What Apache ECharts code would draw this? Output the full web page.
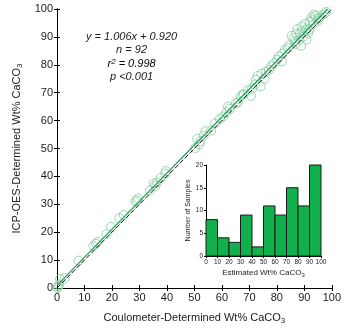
<!DOCTYPE html>
<html>
<head>
<meta charset="utf-8">
<script src="https://cdn.jsdelivr.net/npm/echarts@6/dist/echarts.min.js"></script>
<style>
  html, body { margin: 0; padding: 0; background: #fff; }
  #chart { width: 344px; height: 330px; }
</style>
</head>
<body>
<div id="chart"></div>
<script>
// main scatter: coulometer (x) vs ICP-OES (y), wt% CaCO3
const coulometerX = [
  0.3, 0.8, 0.2, 0.5, 1.1, 2.8, 7.9,
  13.2, 14.7, 14.2, 18.0, 19.7,
  22.7, 24.3, 28.6, 29.5, 29.0,
  33.8, 35.2, 36.4, 35.8, 37.8, 39.4, 39.6,
  50.3, 51.0, 52.2, 53.4, 54.0, 56.1, 57.5, 59.3, 51.8,
  60.5, 61.6, 62.9, 62.2, 65.8, 66.8, 67.5, 69.4, 65.1,
  70.6, 72.0, 74.1, 72.3, 73.0, 74.4, 77.1, 78.9, 76.0, 78.0,
  80.1, 81.8, 80.7, 83.0, 85.4, 87.4, 88.4, 89.0, 88.2, 89.6, 86.5, 87.0, 88.8, 84.5, 86.0, 89.2,
  91.4, 90.2, 92.5, 94.9, 95.5, 93.5, 91.0, 90.5, 93.0, 96.5, 97.5, 92.0, 94.0,
  82.0, 84.0, 86.8, 90.8, 91.8, 93.2, 95.0, 98.0, 71.0, 75.5, 68.0
];
const icpY = [
  0.3, 1.2, 0.0, 0.8, 3.2, 3.6, 9.8,
  15.1, 16.5, 15.8, 19.3, 21.9,
  25.0, 26.2, 31.0, 32.1, 31.4,
  35.0, 37.4, 37.8, 36.6, 39.5, 41.0, 41.9,
  50.2, 53.5, 52.6, 54.6, 56.2, 56.4, 59.0, 60.6, 51.5,
  61.5, 63.0, 64.2, 65.0, 66.5, 68.7, 69.3, 70.8, 66.3,
  68.9, 72.9, 72.3, 74.6, 76.0, 76.8, 78.2, 80.6, 77.5, 79.5,
  81.8, 81.2, 83.0, 85.4, 90.4, 92.8, 91.3, 93.7, 88.9, 90.1, 88.5, 91.0, 86.8, 87.0, 89.5, 92.2,
  91.3, 94.6, 97.0, 95.8, 97.0, 98.0, 93.0, 92.5, 96.0, 97.8, 98.5, 95.5, 97.5,
  84.0, 86.0, 87.5, 89.0, 92.5, 94.5, 96.5, 99.0, 71.5, 75.0, 69.5
];
const fitSlope = 1.006;
const fitIntercept = 0.920;

// inset histogram of estimated wt% CaCO3
const binStarts = [0, 10, 20, 30, 40, 50, 60, 70, 80, 90];
const binCounts = [8, 4, 3, 9, 2, 11, 9, 15, 11, 20];

const FONT = 'Liberation Sans';
const TXT = '#1a1a1a';

const pts = coulometerX.map((x, i) => [x, icpY[i]]);
const fitLine = [[0, fitIntercept], [(100 - fitIntercept) / fitSlope, 100]];
const oneToOne = [[0, 0], [100, 100]];
const histData = binStarts.map((s, i) => [s, s + 10, binCounts[i]]);

const subRich = {
  sub: { fontSize: 8, fontFamily: FONT, color: TXT, verticalAlign: 'bottom', padding: [6, 0, 0, 0] }
};

function frameAxis(pos, inside, showLabel, extra) {
  return Object.assign({
    type: 'value', gridIndex: 0, position: pos,
    min: 0, max: 100, interval: 10,
    axisLine: { show: true, lineStyle: { color: '#000', width: 1 } },
    axisTick: { show: true, inside: inside, length: 3, lineStyle: { color: '#000' } },
    axisLabel: { show: showLabel, fontSize: 11, fontFamily: FONT, color: TXT, margin: 4 },
    splitLine: { show: false }
  }, extra || {});
}

const chart = echarts.init(document.getElementById('chart'));
chart.setOption({
  animation: false,
  backgroundColor: '#fff',
  grid: [
    { left: 57, right: 6, top: 9, bottom: 41 },
    { left: 206, right: 23, top: 165, bottom: 74 }
  ],
  xAxis: [
    frameAxis('bottom', false, true, {
      name: 'Coulometer-Determined Wt% CaCO{sub|3}',
      nameLocation: 'middle', nameGap: 23,
      nameTextStyle: { fontSize: 11, fontFamily: FONT, color: TXT, rich: subRich }
    }),
    frameAxis('bottom', true, false),
    frameAxis('top', false, false),
    frameAxis('top', true, false),
    {
      type: 'value', gridIndex: 1, min: 0, max: 100, interval: 10,
      name: 'Estimated Wt% CaCO{sub|3}', nameLocation: 'middle', nameGap: 12,
      nameTextStyle: { fontSize: 8, fontFamily: FONT, color: TXT,
        rich: { sub: { fontSize: 6, fontFamily: FONT, color: TXT, verticalAlign: 'bottom', padding: [4, 0, 0, 0] } } },
      axisLine: { show: true, lineStyle: { color: '#000' } },
      axisTick: { show: true, length: 2, lineStyle: { color: '#000' } },
      axisLabel: { fontSize: 6.5, fontFamily: FONT, color: TXT, margin: 3 },
      splitLine: { show: false }
    }
  ],
  yAxis: [
    frameAxis('left', false, true, {
      name: 'ICP-OES-Determined Wt% CaCO{sub|3}',
      nameLocation: 'middle', nameGap: 24,
      nameTextStyle: { fontSize: 11, fontFamily: FONT, color: TXT, rich: subRich }
    }),
    frameAxis('left', true, false),
    frameAxis('right', false, false),
    frameAxis('right', true, false),
    {
      type: 'value', gridIndex: 1, min: 0, max: 20, interval: 5,
      name: 'Number of Samples', nameLocation: 'middle', nameGap: 9,
      nameTextStyle: { fontSize: 7, fontFamily: FONT, color: TXT },
      axisLine: { show: true, lineStyle: { color: '#000' } },
      axisTick: { show: true, length: 2, lineStyle: { color: '#000' } },
      axisLabel: { fontSize: 6.5, fontFamily: FONT, color: TXT, margin: 3 },
      splitLine: { show: false }
    }
  ],
  series: [
    {
      type: 'scatter', xAxisIndex: 0, yAxisIndex: 0,
      symbol: 'circle', symbolSize: 9,
      itemStyle: { color: 'rgba(0,0,0,0)', borderColor: '#8fd3a8', borderWidth: 0.9, opacity: 1 },
      data: pts, z: 2
    },
    {
      type: 'line', xAxisIndex: 0, yAxisIndex: 0, data: oneToOne,
      symbol: 'none', lineStyle: { color: '#111', width: 1, type: [5, 2] }, z: 3
    },
    {
      type: 'line', xAxisIndex: 0, yAxisIndex: 0, data: fitLine,
      symbol: 'none', lineStyle: { color: '#1f9a5c', width: 1.2 }, z: 3
    },
    {
      type: 'custom', xAxisIndex: 4, yAxisIndex: 4, data: histData,
      renderItem: function (params, api) {
        const p0 = api.coord([api.value(0), api.value(2)]);
        const p1 = api.coord([api.value(1), 0]);
        return {
          type: 'rect',
          shape: { x: p0[0], y: p0[1], width: p1[0] - p0[0], height: p1[1] - p0[1] },
          style: { fill: '#12b04c', stroke: '#1a1a1a', lineWidth: 1 }
        };
      },
      z: 4
    }
  ],
  graphic: [
    {
      type: 'group', left: 86, top: 31,
      children: [
        { type: 'text', x: 44, y: 0, style: { text: 'y = 1.006x + 0.920', align: 'center', fontSize: 11, fontStyle: 'italic', fontFamily: FONT, fill: TXT } },
        { type: 'text', x: 44, y: 13.5, style: { text: 'n = 92', align: 'center', fontSize: 11, fontStyle: 'italic', fontFamily: FONT, fill: TXT } },
        { type: 'text', x: 44, y: 27, style: {
          text: '{i|r}{s|2}{i| = 0.998}', align: 'center',
          rich: {
            i: { fontSize: 11, fontStyle: 'italic', fontFamily: FONT, color: TXT },
            s: { fontSize: 8, fontStyle: 'italic', fontFamily: FONT, color: TXT, verticalAlign: 'top' }
          } } },
        { type: 'text', x: 44, y: 40.5, style: { text: 'p <0.001', align: 'center', fontSize: 11, fontStyle: 'italic', fontFamily: FONT, fill: TXT } }
      ]
    }
  ]
});
</script>
</body>
</html>
